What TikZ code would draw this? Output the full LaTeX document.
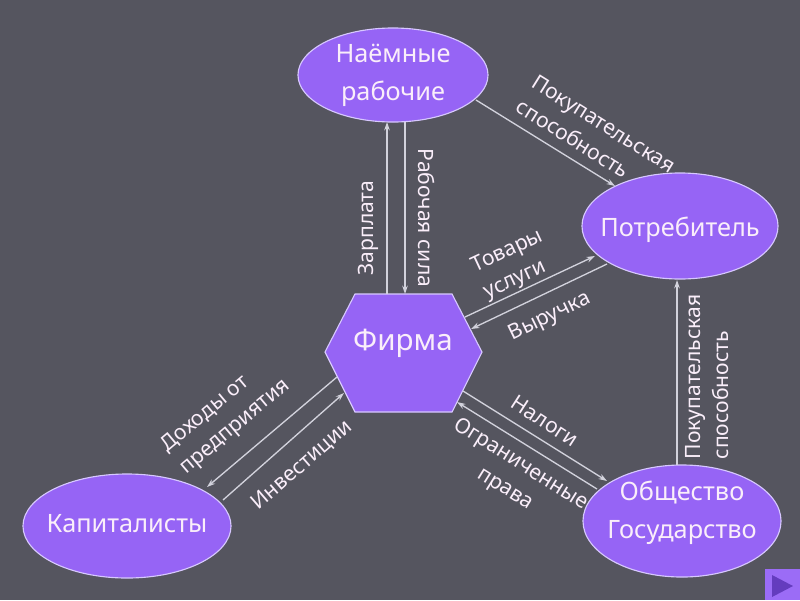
\documentclass[tikz,border=0pt]{standalone}
\usepackage{fontspec}
\setmainfont{Noto Sans}
\usepackage{xcolor}
\usetikzlibrary{
  shapes.geometric,
  arrows.meta,
  positioning
}
\definecolor{slidebg}{RGB}{85,85,95}
\definecolor{bubble}{RGB}{150,100,245}
\definecolor{bubbleline}{RGB}{215,200,255}
\definecolor{txtwhite}{RGB}{250,238,250}
\definecolor{flowgray}{RGB}{210,210,220}
\definecolor{navdark}{RGB}{100,60,190}

\begin{document}
\begin{tikzpicture}[
  x=0.025cm, y=-0.025cm,
  actor/.style={ellipse, draw=bubbleline, fill=bubble, line width=0.8pt},
  actortext/.style={text=txtwhite, align=center, font=\fontsize{18}{27}\selectfont},
  flow/.style={draw=flowgray, line width=0.95pt, -{Stealth[length=6pt,width=4pt]}},
  flowlabel/.style={text=txtwhite, inner sep=0pt, font=\fontsize{15}{20.5}\selectfont}
]
  \fill[slidebg] (0,0) rectangle (800,600);
  \useasboundingbox (0,0) rectangle (800,600);

  \node[actor, minimum width=4.75cm, minimum height=2.35cm,
        label={[actortext]center:Наёмные\\рабочие}] (workers) at (393,75) {};
  \node[actor, minimum width=4.9cm, minimum height=2.65cm,
        label={[actortext, yshift=-0.1cm]center:Потребитель}] (consumer) at (680,226) {};
  \node[actor, minimum width=5.2cm, minimum height=2.6cm,
        label={[actortext, yshift=0.05cm]center:Капиталисты}] (capitalists) at (127,526) {};
  \node[actor, minimum width=4.95cm, minimum height=2.8cm,
        label={[actortext, yshift=0.2cm]center:Общество\\Государство}] (society) at (682,521) {};

  \draw[draw=bubbleline, fill=bubble, line width=0.8pt]
    (355,294) -- (452,294) -- (482,352) -- (452,412) -- (355,412) -- (325,352) -- cycle;
  \node[actortext, font=\fontsize{21}{26}\selectfont] (firm) at (403,343) {Фирма};

  \coordinate (wage1) at (387,294);   \coordinate (wage2) at (387,122);
  \coordinate (labour1) at (405,122); \coordinate (labour2) at (405,294);
  \coordinate (buy1) at (476,100);    \coordinate (buy2) at (615,186);
  \coordinate (goods1) at (465,317);  \coordinate (goods2) at (595,256);
  \coordinate (rev1) at (607,264);    \coordinate (rev2) at (471,329);
  \coordinate (tax1) at (463,391);    \coordinate (tax2) at (607,481);
  \coordinate (rights1) at (597,489); \coordinate (rights2) at (457,402);
  \coordinate (inc1) at (337,377);    \coordinate (inc2) at (207,487);
  \coordinate (inv1) at (223,500);    \coordinate (inv2) at (344,393);
  \coordinate (buyb1) at (677,465);   \coordinate (buyb2) at (677,280);

  \draw[flow] (wage1) -- (wage2);
  \draw[flow] (labour1) -- (labour2);
  \draw[flow] (buy1) -- (buy2);
  \draw[flow] (goods1) -- (goods2);
  \draw[flow] (rev1) -- (rev2);
  \draw[flow] (tax1) -- (tax2);
  \draw[flow] (rights1) -- (rights2);
  \draw[flow] (inc1) -- (inc2);
  \draw[flow] (inv1) -- (inv2);
  \draw[flow] (buyb1) -- (buyb2);

  \node[flowlabel, rotate=90] (wagelbl) at (368,228) {Зарплата};
  \node[flowlabel, rotate=-90] (labourlbl) at (427,218) {Рабочая сила};
  \node[flowlabel, rotate=-32, align=left] (buylbl) at (596,136) {Покупательская\\способность};
  \node[flowlabel, rotate=25, align=left] (goodslbl) at (514,265) {Товары\\услуги};
  \node[flowlabel, rotate=26] (revlbl) at (550,317) {Выручка};
  \node[flowlabel, rotate=-33] (taxlbl) at (545,421) {Налоги};
  \node[flowlabel, rotate=-32, align=center] (rightslbl) at (513,477) {Ограниченные\\права};
  \node[flowlabel, rotate=40, align=left] (inclbl) at (226,416) {Доходы от\\предприятия};
  \node[flowlabel, rotate=41] (invlbl) at (302,465) {Инвестиции};
  \node[flowlabel, rotate=90, align=left] (buyblbl) at (707,377) {Покупательская\\способность};

  \fill[bubble!95!white] (765,569) rectangle (800,600);
  \fill[navdark] (772,575) -- (793,586) -- (772,597) -- cycle;
\end{tikzpicture}
\end{document}
